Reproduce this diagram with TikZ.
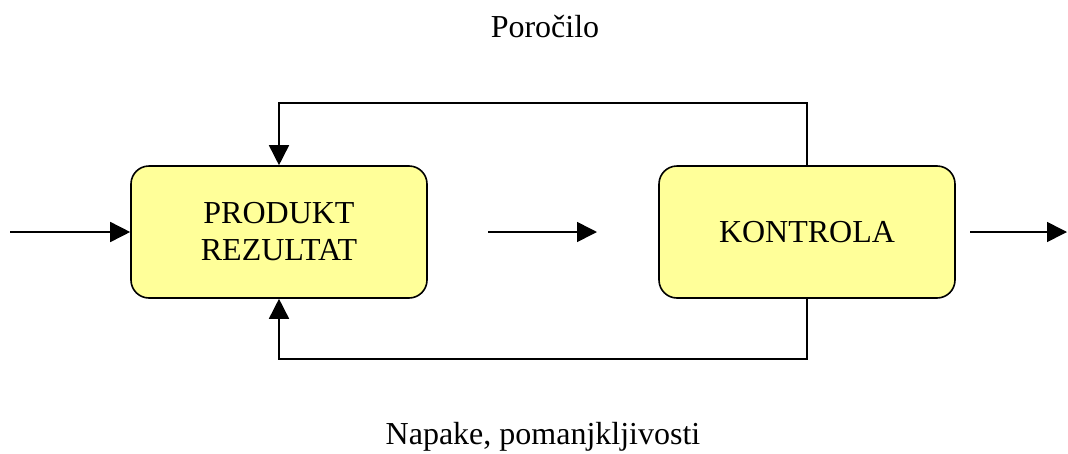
\documentclass[tikz,border=0pt]{standalone}
\usepackage{fontspec}
\setmainfont{Liberation Serif}
\usetikzlibrary{arrows.meta}
\definecolor{boxfill}{HTML}{FFFF99}
\tikzset{
  stagebox/.style={draw=black, line width=1.6pt, fill=boxfill, rounded corners=18pt,
    minimum width=296pt, minimum height=132pt, align=center,
    font=\fontsize{32}{37}\selectfont},
  flow/.style={line width=1.6pt, -{Triangle[length=20pt,width=20pt]}},
  caption/.style={anchor=base, font=\fontsize{32}{38}\selectfont}
}
\begin{document}
\begin{tikzpicture}[x=1pt,y=-1pt]
  \useasboundingbox (0,0) rectangle (1068,453);

  % process stages
  \node[stagebox] (p) at (279,232) {PRODUKT\\REZULTAT};
  \node[stagebox] (k) at (807,232) {KONTROLA};

  % free ends of the straight arrows
  \coordinate (in)   at (10,232);
  \coordinate (mida) at (488,232);
  \coordinate (midb) at (597,232);
  \coordinate (outa) at (970,232);
  \coordinate (outb) at (1067,232);

  \draw[flow] (in) -- (p.west);
  \draw[flow] (mida) -- (midb);
  \draw[flow] (outa) -- (outb);

  % feedback loops
  \draw[flow] (k.north) -- ++(0,-62) -| (p.north);
  \draw[flow] (k.south) -- ++(0,60) -| (p.south);

  % loop labels
  \node[caption] (rep) at (545,37) {Poročilo};
  \node[caption] (err) at (543,444) {Napake, pomanjkljivosti};
\end{tikzpicture}
\end{document}
